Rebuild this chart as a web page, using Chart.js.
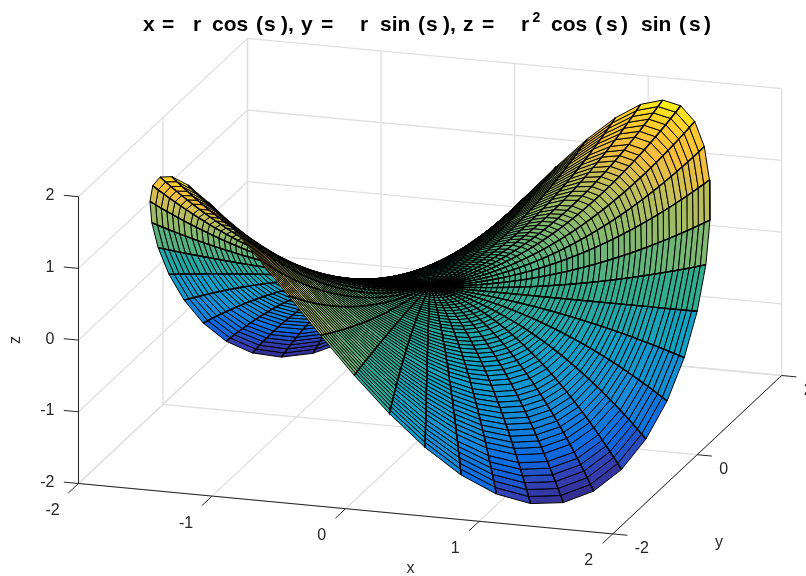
<!DOCTYPE html>
<html lang="en">

<head>
    <meta charset="UTF-8">
    <title>Surface r cos(s), r sin(s), r^2 cos(s) sin(s)</title>
    <script src="https://cdn.jsdelivr.net/npm/chart.js"></script>
    <style>
        html, body { margin: 0; padding: 0; background: #fff; }
        canvas { display: block; }
    </style>
</head>

<body>
    <canvas id="myChart" width="806" height="576"></canvas>

    <script>
        // tick labels
        const xTicks = [-2, -1, 0, 1, 2];
        const yTicks = [-2, 0, 2];
        const zTicks = [-2, -1, 0, 1, 2];

        // rim of the surface (r = 2), one entry per spoke
        const rimX = [2, 1.984, 1.935, 1.854, 1.743, 1.603, 1.437, 1.247, 1.037, .81, .569, .319, .064, -.192, -.445, -.691, -.925, -1.144, -1.345, -1.523, -1.676, -1.802, -1.898, -1.963, -1.996, -1.996, -1.963, -1.898, -1.802, -1.676, -1.523, -1.345, -1.144, -.925, -.691, -.445, -.192, .064, .319, .569, .81, 1.037, 1.247, 1.437, 1.603, 1.743, 1.854, 1.935, 1.984, 2];
        const rimY = [0, .256, .507, .751, .981, 1.196, 1.391, 1.564, 1.71, 1.829, 1.917, 1.974, 1.999, 1.991, 1.95, 1.877, 1.773, 1.64, 1.481, 1.296, 1.091, .868, .63, .382, .128, -.128, -.382, -.63, -.868, -1.091, -1.296, -1.481, -1.64, -1.773, -1.877, -1.95, -1.991, -1.999, -1.974, -1.917, -1.829, -1.71, -1.564, -1.391, -1.196, -.981, -.751, -.507, -.256, 0];
        const rimZ = [0, .507, .981, 1.391, 1.71, 1.917, 1.999, 1.95, 1.773, 1.481, 1.091, .63, .128, -.382, -.868, -1.296, -1.64, -1.877, -1.991, -1.974, -1.829, -1.564, -1.196, -.751, -.256, .256, .751, 1.196, 1.564, 1.829, 1.974, 1.991, 1.877, 1.64, 1.296, .868, .382, -.128, -.63, -1.091, -1.481, -1.773, -1.95, -1.999, -1.917, -1.71, -1.391, -.981, -.507, 0];

        // radius of each ring of the mesh
        const ringR = [0, .04, .08, .12, .16, .2, .24, .29, .33, .37, .41, .45, .49, .53, .57, .61, .65, .69, .73, .78, .82, .86, .9, .94, .98, 1.02, 1.06, 1.1, 1.14, 1.18, 1.22, 1.27, 1.31, 1.35, 1.39, 1.43, 1.47, 1.51, 1.55, 1.59, 1.63, 1.67, 1.71, 1.76, 1.8, 1.84, 1.88, 1.92, 1.96, 2];

        // colormap: position between z=-2 and z=2, and colour
        const colorPos = [0, .075, .14, .25, .375, .5, .625, .75, .85, .93, 1];
        const colorRgb = [[53, 42, 135], [50, 65, 180], [12, 105, 225], [20, 140, 215], [15, 160, 198], [50, 172, 142], [130, 185, 110], [195, 190, 90], [250, 190, 60], [255, 205, 45], [250, 250, 15]];

        // title pieces and where each one starts, MATLAB spaces them out
        const titleText = ["x", "=", "r", "cos", "(", "s", "),", "y", "=", "r", "sin", "(", "s", "),", "z", "=", "r", "cos", "(", "s", ")", "sin", "(", "s", ")"];
        const titleLeft = [143, 162, 193, 212, 256, 264, 281, 301, 321, 360, 380, 418, 426, 443, 463, 482, 521, 551, 595, 606, 621, 641, 679, 689, 704];

        // view: pixels per data unit along each axis, and where x=y=z=-2 lands
        const origin = [78.5, 483.5];
        const xDir = [133.55, 12.6];
        const yDir = [42.25, -39.6];
        const zDir = [0, -71.7];
        const viewNormal = [3029, -9575, 5820];

        function project(x, y, z) {
            return {
                x: origin[0] + (x + 2) * xDir[0] + (y + 2) * yDir[0] + (z + 2) * zDir[0],
                y: origin[1] + (x + 2) * xDir[1] + (y + 2) * yDir[1] + (z + 2) * zDir[1]
            };
        }

        function depth(p) {
            return p[0] * viewNormal[0] + p[1] * viewNormal[1] + p[2] * viewNormal[2];
        }

        function colorFor(z) {
            let t = Math.max(0, Math.min(0.9999, (z + 2) / 4));
            let i = 0;
            while (t > colorPos[i + 1]) i++;
            let f = (t - colorPos[i]) / (colorPos[i + 1] - colorPos[i]);
            let c = [0, 1, 2].map(k => Math.round(colorRgb[i][k] + (colorRgb[i + 1][k] - colorRgb[i][k]) * f));
            return "rgb(" + c.join(",") + ")";
        }

        // mesh vertex: the rim is typed above, inner rings follow the title (x,y ~ r, z ~ r^2)
        function vertex(spoke, ring) {
            let f = ringR[ring] / 2;
            return [rimX[spoke] * f, rimY[spoke] * f, rimZ[spoke] * f * f];
        }

        function lineSet(points, color, width) {
            return {
                data: points.map(p => project(p[0], p[1], p[2])),
                showLine: true, pointRadius: 0, borderColor: color, borderWidth: width, fill: false
            };
        }

        // paint order, far things first
        let painted = [];
        const gridColor = "#dfdfdf";

        // grid on floor and two back walls
        xTicks.forEach(t => {
            painted.push(lineSet([[t, -2, -2], [t, 2, -2], [t, 2, 2]], gridColor, 1.3));
        });
        yTicks.forEach(t => {
            painted.push(lineSet([[2, t, -2], [-2, t, -2], [-2, t, 2]], gridColor, 1.3));
        });
        zTicks.forEach(t => {
            painted.push(lineSet([[-2, -2, t], [-2, 2, t], [2, 2, t]], gridColor, 1.3));
        });

        // axis lines and tick marks
        const axisColor = "#262626";
        painted.push(lineSet([[-2, -2, -2], [2, -2, -2]], axisColor, 1));
        painted.push(lineSet([[2, -2, -2], [2, 2, -2]], axisColor, 1));
        painted.push(lineSet([[-2, -2, -2], [-2, -2, 2]], axisColor, 1));
        xTicks.forEach(t => painted.push(lineSet([[t, -2, -2], [t, -2.24, -2]], axisColor, 1)));
        yTicks.forEach(t => painted.push(lineSet([[2, t, -2], [2.11, t, -2]], axisColor, 1)));
        zTicks.forEach(t => painted.push(lineSet([[-2, -2, t], [-2.11, -2, t]], axisColor, 1)));

        // surface facets, sorted back to front
        let facets = [];
        for (let i = 0; i < rimX.length - 1; i++) {
            for (let j = 0; j < ringR.length - 1; j++) {
                let a = vertex(i, j), b = vertex(i + 1, j), c = vertex(i + 1, j + 1), d = vertex(i, j + 1);
                let mid = [0, 1, 2].map(k => (a[k] + b[k] + c[k] + d[k]) / 4);
                facets.push({ a, b, c, d, z: a[2], depth: depth(mid) });
            }
        }
        facets.sort((p, q) => p.depth - q.depth);

        facets.forEach(f => {
            let quad = [f.a, f.b, f.c, f.d, f.a].map(p => project(p[0], p[1], p[2]));
            painted.push({
                data: quad, showLine: true, pointRadius: 0, fill: "shape",
                backgroundColor: colorFor(f.z), borderColor: "#000", borderWidth: 1
            });
            // spokes read heavier than the rings in the picture
            let gap = { x: NaN, y: NaN };
            painted.push({
                data: [project(...f.a), project(...f.d), gap, project(...f.b), project(...f.c)],
                showLine: true, pointRadius: 0, fill: false, spanGaps: false,
                borderColor: "#000", borderWidth: 1.4
            });
        });

        // text drawn on top of the chart: tick labels, axis names, title
        const textPlugin = {
            id: "labels3d",
            afterDraw(chart) {
                let ctx = chart.ctx;
                let sx = chart.scales.x, sy = chart.scales.y;
                function at(p, dx, dy, text) {
                    ctx.fillText(text, sx.getPixelForValue(p.x) + dx, sy.getPixelForValue(p.y) + dy);
                }
                ctx.save();
                ctx.fillStyle = "#262626";
                ctx.font = "16px 'Liberation Sans'";
                ctx.textBaseline = "middle";
                ctx.textAlign = "center";
                xTicks.forEach(t => at(project(t, -2, -2), t < 0 ? -26 : -24, 27, String(t)));
                ctx.textAlign = "left";
                yTicks.forEach(t => at(project(2, t, -2), 22, 15, String(t)));
                ctx.textAlign = "right";
                zTicks.forEach(t => at(project(-2, -2, t), -24, -1, String(t)));

                ctx.textAlign = "center";
                at(project(0, -2, -2), 65, 60, "x");
                at(project(2, -1, -2), 64, 48, "y");
                ctx.save();
                ctx.translate(16, 340);
                ctx.rotate(-Math.PI / 2);
                ctx.fillText("z", 0, 0);
                ctx.restore();

                ctx.fillStyle = "#000";
                ctx.textAlign = "left";
                ctx.textBaseline = "alphabetic";
                ctx.font = "bold 21px 'Liberation Sans'";
                titleText.forEach((t, i) => ctx.fillText(t, titleLeft[i], 30.5));
                ctx.font = "bold 14px 'Liberation Sans'";
                ctx.fillText("2", 532.5, 21.5);
                ctx.restore();
            }
        };

        new Chart(document.getElementById("myChart").getContext("2d"), {
            type: "scatter",
            data: { datasets: painted.reverse() },   // first dataset ends up on top
            options: {
                responsive: false,
                animation: false,
                events: [],
                layout: { padding: 0 },
                plugins: { legend: { display: false }, tooltip: { enabled: false }, title: { display: false } },
                scales: {
                    x: { type: "linear", display: false, min: 0, max: 806 },
                    y: { type: "linear", display: false, min: 0, max: 576, reverse: true }
                }
            },
            plugins: [textPlugin]
        });
    </script>
</body>

</html>
